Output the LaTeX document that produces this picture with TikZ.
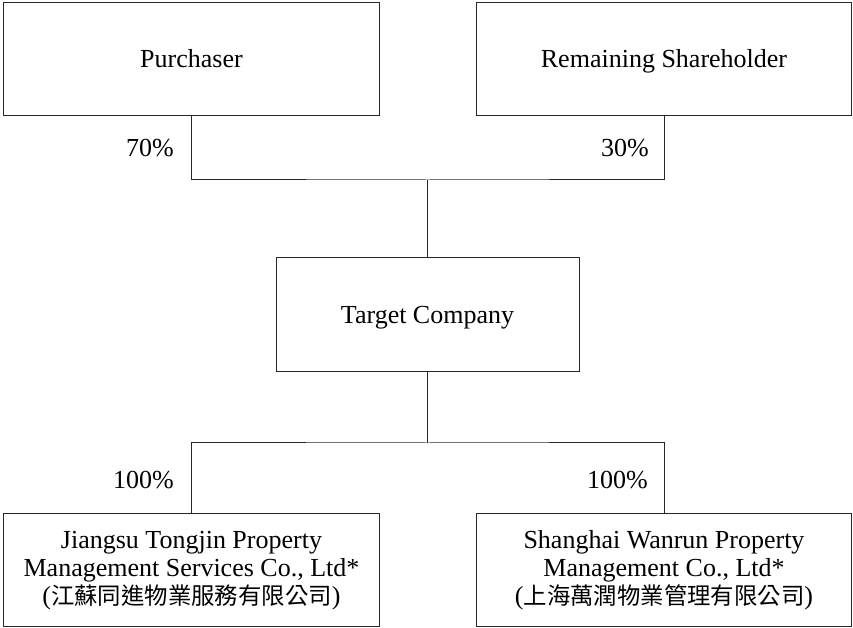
\documentclass[tikz,border=0pt]{standalone}
\usepackage{fontspec}
\setmainfont{Liberation Serif}
\newfontfamily\cjk[Scale=0.9]{Noto Sans CJK TC}
\usepackage{tikz}
\usetikzlibrary{calc,positioning}
\tikzset{
  % box styles (holders and subsidiaries)
  entity/.style={rectangle,draw=black!85,line width=1pt,inner sep=0pt,align=center,
    font=\fontsize{26}{28}\selectfont},
  oneline/.style={text height=17pt,text depth=0pt},
  wide/.style={entity,minimum width=376pt,minimum height=113pt},
  mid/.style={entity,oneline,minimum width=303pt,minimum height=114pt},
  % shareholding percentages
  pct/.style={anchor=east,inner sep=0pt,font=\fontsize{26}{28}\selectfont},
  link/.style={draw=black!85,line width=1pt},
}

\begin{document}
\begin{tikzpicture}[x=1pt,y=1pt]
  \useasboundingbox (0,0) rectangle (853,628);
  \node[wide,oneline] (purchaser) at (191.5,568.5) {Purchaser};
  \node[wide,oneline,minimum width=375pt] (remaining) at (664,568.5) {Remaining Shareholder};
  \node[mid] (target) at (427.5,313) {Target Company};
  \node[wide] (jiangsu) at (191.5,57.5) {Jiangsu Tongjin Property\\
    Management Services Co., Ltd*\\({\cjk 江蘇同進物業服務有限公司})};
  \node[wide,minimum width=375pt] (shanghai) at (664,57.5) {Shanghai Wanrun Property\\
    Management Co., Ltd*\\({\cjk 上海萬潤物業管理有限公司})};
  \coordinate (topbar) at (427.5,448);
  \coordinate (botbar) at (427.5,185);
  \draw[link] (purchaser) |- (topbar) -| (remaining);
  \draw[link] (topbar) -- (target);
  \draw[link] (target) -- (botbar);
  \draw[link] (jiangsu) |- (botbar) -| (shanghai);
  \node[pct] (p70) at (174,480) {70\%};
  \node[pct] (p30) at (649,480) {30\%};
  \node[pct] (p100a) at (174,148) {100\%};
  \node[pct] (p100b) at (648,148) {100\%};
\end{tikzpicture}
\end{document}
